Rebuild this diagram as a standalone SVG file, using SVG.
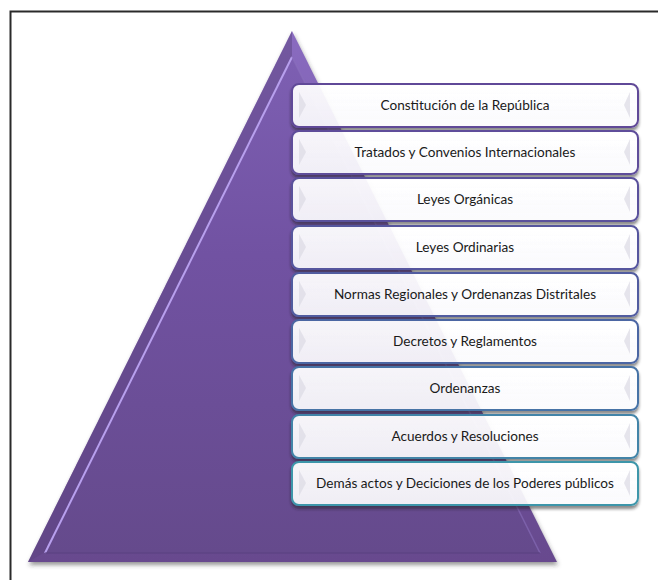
<svg xmlns="http://www.w3.org/2000/svg" width="658" height="580" viewBox="0 0 658 580">
<defs>
<linearGradient id="triG" x1="0" y1="0" x2="0" y2="1">
<stop offset="0" stop-color="#8a6cc0"/>
<stop offset="0.4" stop-color="#7656a8"/>
<stop offset="1" stop-color="#674a8e"/>
</linearGradient>
<linearGradient id="triIn" x1="0" y1="0" x2="0" y2="1">
<stop offset="0" stop-color="#7d5fb2"/>
<stop offset="0.4" stop-color="#7152a2"/>
<stop offset="1" stop-color="#654a8c"/>
</linearGradient>
<linearGradient id="boxF" x1="0" y1="0" x2="0" y2="1">
<stop offset="0" stop-color="#ffffff" stop-opacity="0.94"/>
<stop offset="1" stop-color="#fbfbfd" stop-opacity="0.92"/>
</linearGradient>
<filter id="sh" x="-10%" y="-10%" width="120%" height="140%">
<feGaussianBlur in="SourceAlpha" stdDeviation="1.5" result="b"/>
<feOffset in="b" dx="0" dy="3" result="o"/>
<feFlood flood-color="#222" flood-opacity="0.55"/>
<feComposite in2="o" operator="in" result="s"/>
<feComposite in="s" in2="SourceAlpha" operator="out" result="s2"/>
<feMerge><feMergeNode in="s2"/><feMergeNode in="SourceGraphic"/></feMerge>
</filter>
<filter id="tsh" x="-10%" y="-10%" width="120%" height="120%">
<feDropShadow dx="1" dy="3" stdDeviation="2" flood-color="#333" flood-opacity="0.5"/>
</filter>
<style>
.box{fill:url(#boxF);stroke-width:2;filter:url(#sh)}
.chev{fill:#dcdae4;opacity:0.7}
.lbl{font-family:Lato,"Open Sans","Liberation Sans",sans-serif;font-size:13.6px;fill:#1a1a1a;text-anchor:middle}
</style>
</defs>
<rect width="658" height="580" fill="#ffffff"/>
<path d="M10.5 580 V11.5 H658" fill="none" stroke="#2a2a2a" stroke-width="2"/>
<g id="pyramid">
<polygon points="292,31 557,562 28,562" fill="url(#triG)" filter="url(#tsh)"/>
<polygon points="292,31 292,57 45,552 28,562" fill="#5b437f" opacity="0.5"/>
<polygon points="292,57 540,553 45,553" fill="url(#triIn)"/>
<line x1="292" y1="57" x2="45" y2="553" stroke="#b8a0ee" stroke-width="2"/>
<line x1="292" y1="57" x2="540" y2="553" stroke="#8a70bc" stroke-width="1.5" opacity="0.6"/>
<line x1="45" y1="553" x2="540" y2="553" stroke="#5a4080" stroke-width="1.5" opacity="0.7"/>
</g>
<g id="n1"><rect class="box" x="292" y="84" width="346" height="43" rx="7" stroke="#614a98"/><polygon class="chev" points="299,92 306,105 299,118"/><polygon class="chev" points="630,92 624,105 630,118"/><text class="lbl" x="465" y="110">Constitución de la República</text></g>
<g id="n2"><rect class="box" x="292" y="131" width="346" height="43" rx="7" stroke="#5e4d9a"/><polygon class="chev" points="299,139 306,152 299,165"/><polygon class="chev" points="630,139 624,152 630,165"/><text class="lbl" x="465" y="157">Tratados y Convenios Internacionales</text></g>
<g id="n3"><rect class="box" x="292" y="178" width="346" height="43" rx="7" stroke="#5a519c"/><polygon class="chev" points="299,186 306,199 299,212"/><polygon class="chev" points="630,186 624,199 630,212"/><text class="lbl" x="465" y="204">Leyes Orgánicas</text></g>
<g id="n4"><rect class="box" x="292" y="226" width="346" height="43" rx="7" stroke="#56569e"/><polygon class="chev" points="299,234 306,247 299,260"/><polygon class="chev" points="630,234 624,247 630,260"/><text class="lbl" x="465" y="252">Leyes Ordinarias</text></g>
<g id="n5"><rect class="box" x="292" y="273" width="346" height="43" rx="7" stroke="#515ca0"/><polygon class="chev" points="299,281 306,294 299,307"/><polygon class="chev" points="630,281 624,294 630,307"/><text class="lbl" x="465" y="299">Normas Regionales y Ordenanzas Distritales</text></g>
<g id="n6"><rect class="box" x="292" y="320" width="346" height="43" rx="7" stroke="#4c66a3"/><polygon class="chev" points="299,328 306,341 299,354"/><polygon class="chev" points="630,328 624,341 630,354"/><text class="lbl" x="465" y="346">Decretos y Reglamentos</text></g>
<g id="n7"><rect class="box" x="292" y="367" width="346" height="43" rx="7" stroke="#4773a6"/><polygon class="chev" points="299,375 306,388 299,401"/><polygon class="chev" points="630,375 624,388 630,401"/><text class="lbl" x="465" y="393">Ordenanzas</text></g>
<g id="n8"><rect class="box" x="292" y="415" width="346" height="43" rx="7" stroke="#4284a8"/><polygon class="chev" points="299,423 306,436 299,449"/><polygon class="chev" points="630,423 624,436 630,449"/><text class="lbl" x="465" y="441">Acuerdos y Resoluciones</text></g>
<g id="n9"><rect class="box" x="292" y="462" width="346" height="43" rx="7" stroke="#3e96aa"/><polygon class="chev" points="299,470 306,483 299,496"/><polygon class="chev" points="630,470 624,483 630,496"/><text class="lbl" x="465" y="488">Demás actos y Deciciones de los Poderes públicos</text></g>
</svg>
